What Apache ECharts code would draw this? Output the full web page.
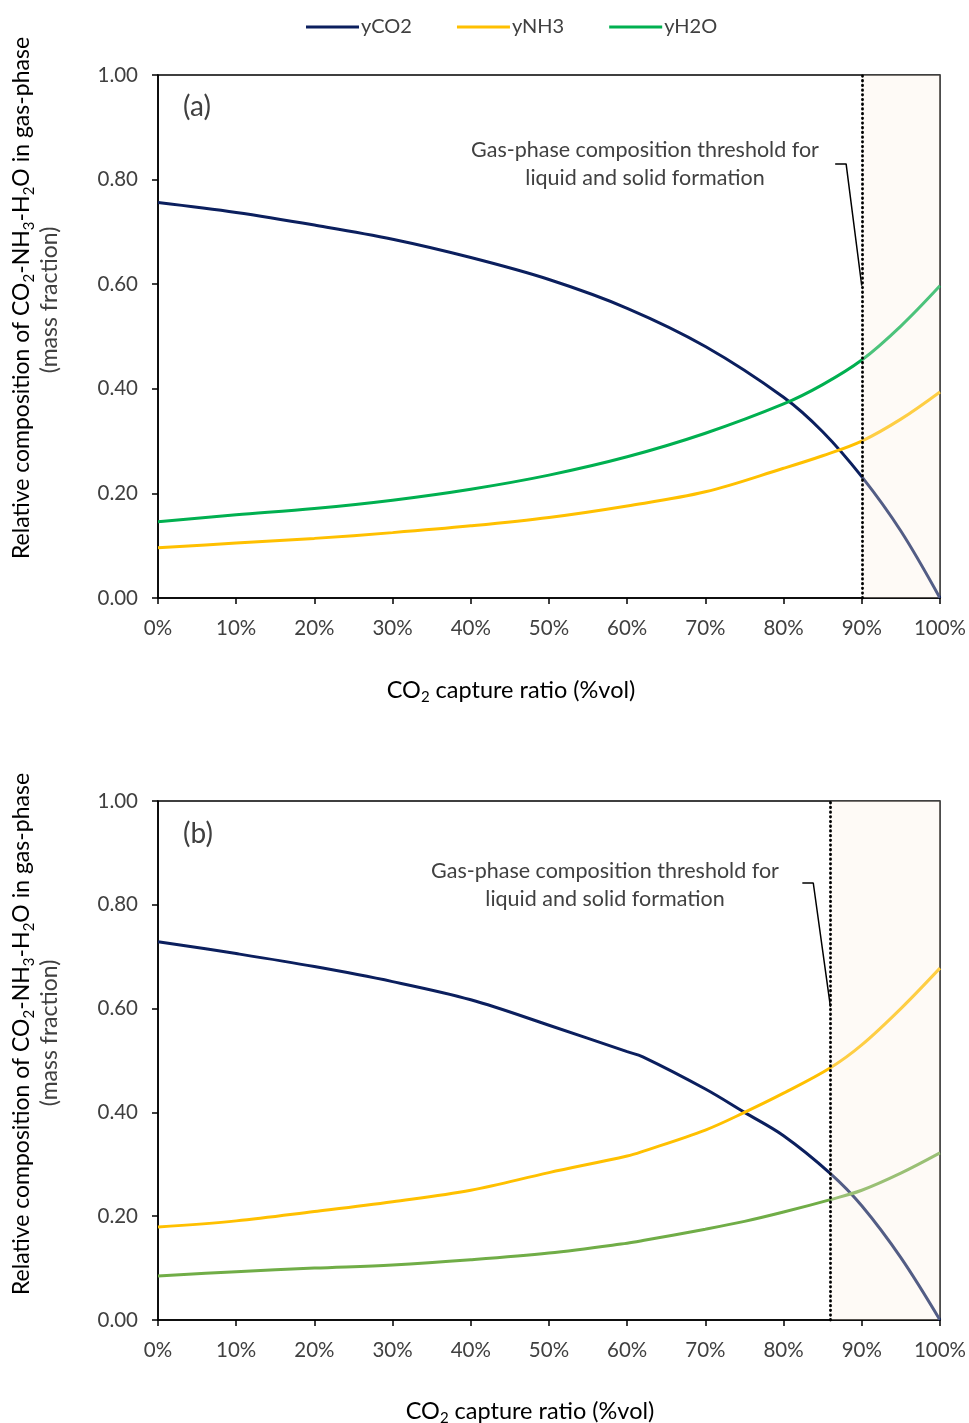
<!DOCTYPE html>
<html>
<head>
<meta charset="utf-8">
<script src="https://cdn.jsdelivr.net/npm/echarts@6/dist/echarts.min.js"></script>
<style>html,body{margin:0;padding:0;background:#fff}#c{width:969px;height:1423px}</style>
</head>
<body>
<div id="c"></div>
<script>
// ---- Data (a) ----
var xA = [0, 10, 20, 30, 40, 50, 60, 70, 80, 85, 90, 95, 100];
var co2A = [0.756, 0.737, 0.713, 0.686, 0.651, 0.609, 0.554, 0.481, 0.384, 0.318, 0.232, 0.128, 0.000];
var nh3A = [0.096, 0.105, 0.114, 0.125, 0.138, 0.154, 0.176, 0.203, 0.248, 0.272, 0.300, 0.342, 0.394];
var h2oA = [0.146, 0.159, 0.171, 0.187, 0.208, 0.235, 0.270, 0.315, 0.371, 0.408, 0.455, 0.520, 0.597];
// ---- Data (b) ----
var xB = [0, 10, 20, 30, 40, 50, 60, 62, 70, 75, 80, 86, 90, 95, 100];
var co2B = [0.729, 0.706, 0.681, 0.652, 0.617, 0.568, 0.517, 0.507, 0.445, 0.400, 0.355, 0.282, 0.220, 0.120, 0.000];
var nh3B = [0.179, 0.191, 0.209, 0.228, 0.250, 0.284, 0.316, 0.325, 0.366, 0.400, 0.437, 0.486, 0.530, 0.600, 0.678];
var h2oB = [0.085, 0.093, 0.100, 0.106, 0.116, 0.129, 0.148, 0.153, 0.175, 0.190, 0.208, 0.232, 0.250, 0.283, 0.322];
// thresholds & annotation leader lines (data coords)
var thrA = 90, thrB = 86;
var leaderA = [[86.6, 0.830], [88.0, 0.830], [90, 0.597]];
var leaderB = [[82.4, 0.842], [83.8, 0.842], [86, 0.603]];
var xTicks = {min: 0, max: 100, interval: 10};
var yTicks = {min: 0, max: 1, interval: 0.2};
var seriesNames = ['yCO2', 'yNH3', 'yH2O'];

function pairs(xs, ys) { return xs.map(function (x, i) { return [x, ys[i]]; }); }

var FONT = 'Lato';
var TXT = '#404040';
var NAVY = '#0b1f5e', YEL = '#ffc000', GRN = '#00b050', GRN2 = '#70ad47';

function xAxisCfg(gi) {
  return {
    type: 'value', gridIndex: gi, min: xTicks.min, max: xTicks.max, interval: xTicks.interval,
    axisLine: {show: true, lineStyle: {color: '#000', width: 1.5}},
    axisTick: {show: true, inside: false, length: 6, lineStyle: {color: '#000', width: 1.5}},
    splitLine: {show: false},
    axisLabel: {formatter: '{value}%', color: TXT, fontFamily: FONT, fontSize: 20.5, margin: 20}
  };
}
function yAxisCfg(gi) {
  return {
    type: 'value', gridIndex: gi, min: yTicks.min, max: yTicks.max, interval: yTicks.interval,
    axisLine: {show: true, lineStyle: {color: '#000', width: 1.5}},
    axisTick: {show: true, inside: false, length: 6, lineStyle: {color: '#000', width: 1.5}},
    splitLine: {show: false},
    axisLabel: {formatter: function (v) { return v.toFixed(2); }, color: TXT, fontFamily: FONT, fontSize: 20.5, margin: 20}
  };
}
function lineSeries(name, gi, xs, ys, color) {
  return {
    name: name, type: 'line', xAxisIndex: gi, yAxisIndex: gi, data: pairs(xs, ys),
    smooth: 0.35, symbol: 'none', showSymbol: false, z: 3,
    lineStyle: {color: color, width: 3}, itemStyle: {color: color}
  };
}
function overlaySeries(gi, thr, leader) {
  return {
    name: 'leader' + gi, type: 'line', xAxisIndex: gi, yAxisIndex: gi, data: leader,
    symbol: 'none', z: 6, silent: true,
    lineStyle: {color: '#000', width: 1.5},
    markArea: {
      silent: true, z: 10,
      itemStyle: {color: 'rgba(252,240,225,0.3)'},
      data: [[{xAxis: thr}, {xAxis: 100}]]
    },
    markLine: {
      silent: true, z: 12, symbol: 'none', label: {show: false},
      lineStyle: {color: '#000', width: 2.8, type: [0.5, 4.2], cap: 'round'},
      data: [{xAxis: thr}]
    }
  };
}

var sub = {fontSize: 15, fontFamily: FONT, color: TXT, lineHeight: 21, verticalAlign: 'bottom'};
var nrm = {fontSize: 23, fontFamily: FONT, color: TXT, lineHeight: 30};
var subX = {fontSize: 15, fontFamily: FONT, color: TXT, lineHeight: 21, verticalAlign: 'bottom'};
var nrmX = {fontSize: 23.5, fontFamily: FONT, color: TXT, lineHeight: 30};
function yTitle(cx, cy) {
  return {
    type: 'text', x: cx, y: cy, rotation: Math.PI / 2,
    style: {
      text: '{n|Relative composition of CO}{s|2}{n|-NH}{s|3}{n|-H}{s|2}{n|O in gas-phase}',
      rich: {n: nrm, s: sub}, align: 'center', verticalAlign: 'middle'
    }
  };
}
function plainText(x, y, t, size, rot) {
  return {type: 'text', x: x, y: y, rotation: rot || 0,
    style: {text: t, fontFamily: FONT, fontSize: size, fill: TXT, align: 'center', verticalAlign: 'middle'}};
}
function xTitle(cx, cy) {
  return {
    type: 'text', x: cx, y: cy,
    style: {text: '{n|CO}{s|2}{n| capture ratio (%vol)}', rich: {n: nrmX, s: subX}, align: 'center', verticalAlign: 'middle'}
  };
}

var option = {
  animation: false,
  backgroundColor: '#fff',
  legend: {
    data: seriesNames, left: 301, top: 12, icon: 'rect', itemWidth: 53, itemHeight: 3, itemGap: 45,
    textStyle: {fontFamily: FONT, fontSize: 20, color: TXT, padding: [0, 0, 0, -3]}
  },
  grid: [
    {left: 158, top: 75, width: 782, height: 523, show: true, borderColor: '#000', borderWidth: 1.5, backgroundColor: 'transparent'},
    {left: 158, top: 801, width: 783, height: 519, show: true, borderColor: '#000', borderWidth: 1.5, backgroundColor: 'transparent'}
  ],
  xAxis: [xAxisCfg(0), xAxisCfg(1)],
  yAxis: [yAxisCfg(0), yAxisCfg(1)],
  series: [
    lineSeries(seriesNames[0], 0, xA, co2A, NAVY),
    lineSeries(seriesNames[1], 0, xA, nh3A, YEL),
    lineSeries(seriesNames[2], 0, xA, h2oA, GRN),
    overlaySeries(0, thrA, leaderA),
    lineSeries('yCO2 (b)', 1, xB, co2B, NAVY),
    lineSeries('yNH3 (b)', 1, xB, nh3B, YEL),
    lineSeries('yH2O (b)', 1, xB, h2oB, GRN2),
    overlaySeries(1, thrB, leaderB)
  ],
  graphic: [
    yTitle(22, 298), plainText(50, 300, '(mass fraction)', 23, Math.PI / 2),
    yTitle(22, 1034), plainText(50, 1033, '(mass fraction)', 23, Math.PI / 2),
    xTitle(511, 690), xTitle(530, 1411),
    plainText(197, 107, '(a)', 28), plainText(198, 834, '(b)', 28),
    plainText(645, 150, 'Gas-phase composition threshold for', 21.5),
    plainText(645, 178, 'liquid and solid formation', 21.5),
    plainText(605, 871, 'Gas-phase composition threshold for', 21.5),
    plainText(605, 899, 'liquid and solid formation', 21.5)
  ]
};
var chart = echarts.init(document.getElementById('c'), null, {renderer: 'canvas'});
chart.setOption(option);
</script>
</body>
</html>
